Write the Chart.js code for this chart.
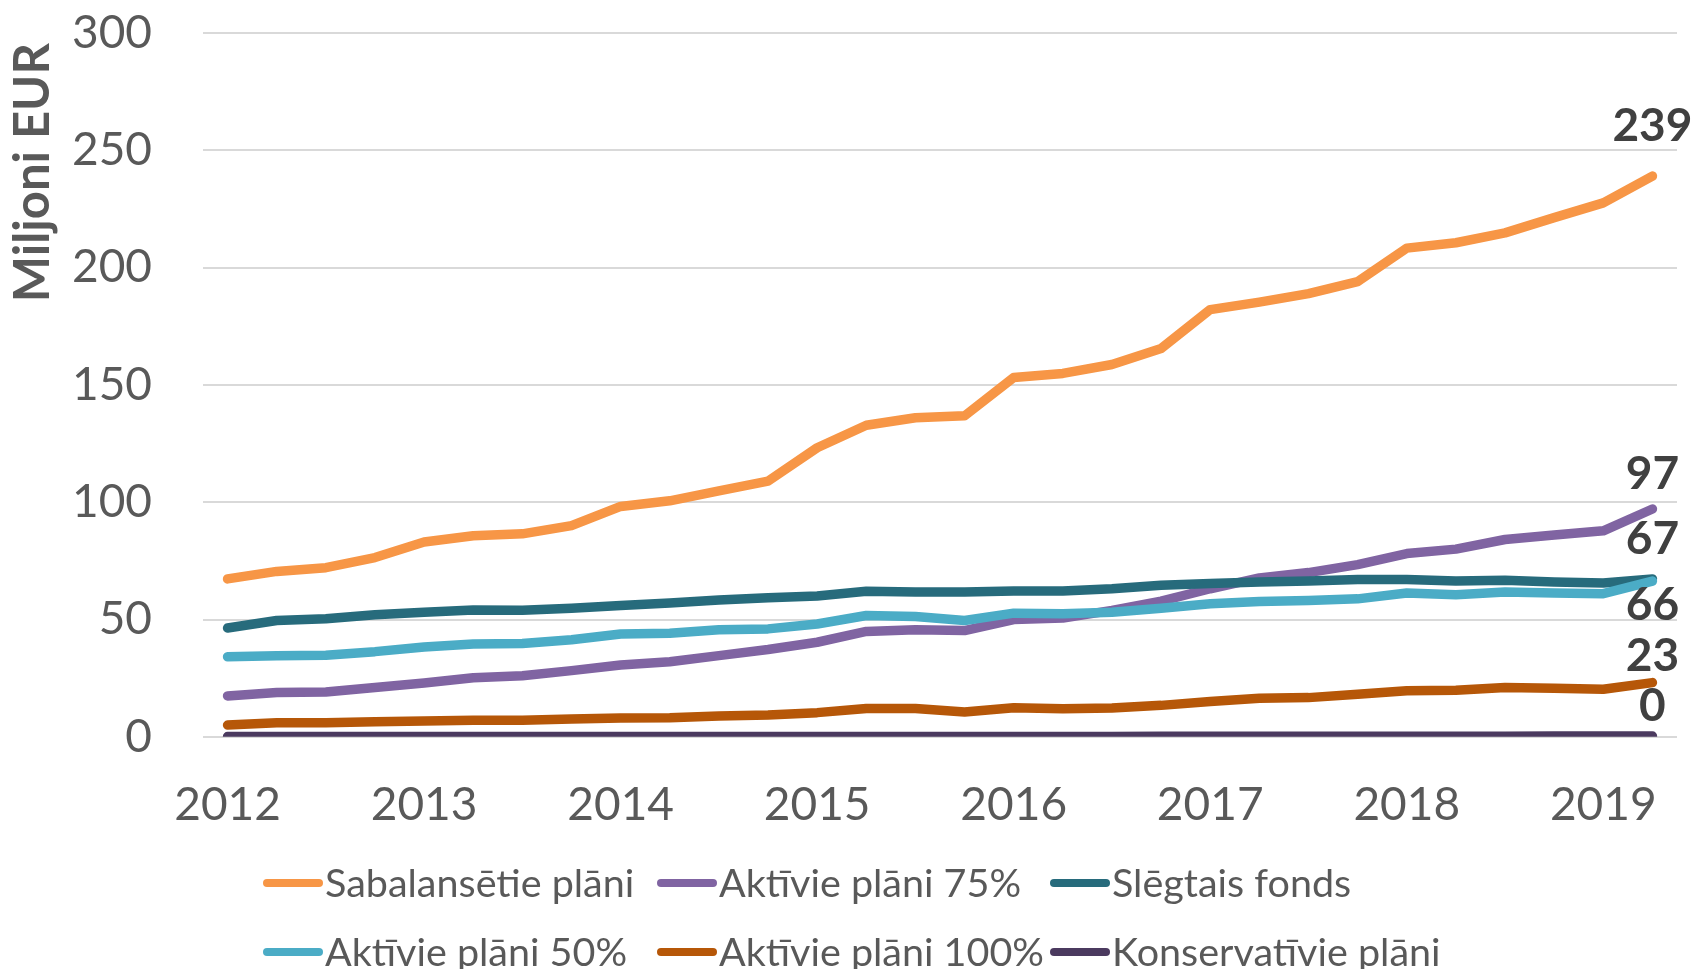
<!DOCTYPE html>
<html>
<head>
<meta charset="utf-8">
<script src="https://cdn.jsdelivr.net/npm/chart.js@4.4.1/dist/chart.umd.min.js"></script>
<style>
  html, body { margin: 0; padding: 0; background: #ffffff; }
  #wrap { width: 1694px; height: 969px; }
</style>
</head>
<body>
<div id="wrap"><canvas id="c" width="1694" height="969"></canvas></div>
<script>
// ---- data (quarterly, million EUR) ----
const categories = [
  '2012-Q1','2012-Q2','2012-Q3','2012-Q4',
  '2013-Q1','2013-Q2','2013-Q3','2013-Q4',
  '2014-Q1','2014-Q2','2014-Q3','2014-Q4',
  '2015-Q1','2015-Q2','2015-Q3','2015-Q4',
  '2016-Q1','2016-Q2','2016-Q3','2016-Q4',
  '2017-Q1','2017-Q2','2017-Q3','2017-Q4',
  '2018-Q1','2018-Q2','2018-Q3','2018-Q4',
  '2019-Q1','2019-Q2'
];
const seriesNames = ['Sabalansētie plāni','Aktīvie plāni 75%','Slēgtais fonds','Aktīvie plāni 50%','Aktīvie plāni 100%','Konservatīvie plāni'];
const sabalansetie = [67.3,70.5,72.1,76.4,83.0,85.7,86.5,90.0,98.2,100.6,104.8,109.0,123.2,132.8,136.0,136.8,153.2,154.9,158.7,165.5,182.1,185.3,188.9,194.0,208.3,210.6,214.8,221.3,227.6,239.0];
const aktivie75 = [17.4,18.9,19.1,21.0,22.9,25.2,26.0,28.2,30.6,32.0,34.6,37.2,40.3,44.9,45.6,45.3,50.0,50.6,53.9,57.8,63.1,67.7,70.0,73.4,78.1,80.0,84.1,86.0,87.8,97.1];
const slegtais = [46.4,49.6,50.3,52.0,53.1,54.1,53.9,54.8,56.0,57.0,58.3,59.3,60.0,62.0,61.7,61.7,62.1,62.1,63.1,64.6,65.3,66.0,66.4,67.1,67.1,66.4,66.7,66.0,65.6,67.3];
const aktivie50 = [34.1,34.6,34.8,36.3,38.3,39.6,39.8,41.4,43.8,44.1,45.6,46.0,48.1,51.7,51.3,49.6,52.7,52.4,53.1,54.8,56.7,57.7,58.1,58.8,61.3,60.6,61.7,61.3,61.0,66.4];
const aktivie100 = [5.0,6.0,6.0,6.4,6.7,7.1,7.1,7.6,8.0,8.1,8.9,9.3,10.3,12.1,12.1,10.6,12.4,12.0,12.3,13.4,15.0,16.4,16.7,18.1,19.6,19.8,21.0,20.7,20.3,23.1];
const konservativie = [0.1,0.1,0.1,0.1,0.1,0.1,0.1,0.1,0.1,0.1,0.1,0.1,0.1,0.1,0.1,0.1,0.1,0.1,0.1,0.2,0.2,0.2,0.2,0.2,0.2,0.2,0.2,0.3,0.3,0.3];
const yTicks = [0, 50, 100, 150, 200, 250, 300];
const yTitle = 'Miljoni EUR';

// ---- styles ----
const colors = ['#F79646','#8064A2','#276B7C','#4BACC6','#B65708','#4B3A5F'];
const labelOffsets = [-50, -35, -40, 24, -26, -30];
const TEXT = '#595959';
const FONT = 'Lato';

const seriesValues = [sabalansetie, aktivie75, slegtais, aktivie50, aktivie100, konservativie];

const endLabels = {
  id: 'endLabels',
  afterDatasetsDraw(chart) {
    const ctx = chart.ctx;
    ctx.save();
    ctx.font = 'bold 46px ' + FONT;
    ctx.fillStyle = '#404040';
    ctx.textAlign = 'center';
    ctx.textBaseline = 'middle';
    chart.data.datasets.forEach((ds, i) => {
      const meta = chart.getDatasetMeta(i);
      const pt = meta.data[meta.data.length - 1];
      const v = ds.data[ds.data.length - 1];
      ctx.fillText(String(Math.round(v)), pt.x, pt.y + labelOffsets[i]);
    });
    ctx.restore();
  }
};

const axisTitle = {
  id: 'axisTitle',
  afterDraw(chart) {
    const ctx = chart.ctx;
    ctx.save();
    ctx.font = 'bold 49px ' + FONT;
    ctx.fillStyle = TEXT;
    ctx.textAlign = 'right';
    ctx.textBaseline = 'middle';
    ctx.translate(33, 43);
    ctx.rotate(-Math.PI / 2);
    ctx.fillText(yTitle, 0, 0);
    ctx.restore();
  }
};

const gridLegend = {
  id: 'gridLegend',
  afterDraw(chart) {
    const ctx = chart.ctx;
    const colX = [263, 657, 1050];
    const rowY = [883, 952];
    ctx.save();
    ctx.font = '39.5px ' + FONT;
    ctx.textBaseline = 'alphabetic';
    ctx.textAlign = 'left';
    chart.data.datasets.forEach((ds, i) => {
      const x = colX[i % 3];
      const y = rowY[Math.floor(i / 3)];
      ctx.strokeStyle = ds.borderColor;
      ctx.lineWidth = 8;
      ctx.lineCap = 'round';
      ctx.beginPath();
      ctx.moveTo(x + 4, y);
      ctx.lineTo(x + 56, y);
      ctx.stroke();
      ctx.fillStyle = TEXT;
      ctx.fillText(ds.label, x + 62, y + 14);
    });
    ctx.restore();
  }
};

function build() {
  Chart.defaults.font.family = FONT;
  Chart.defaults.color = TEXT;
  const n = seriesNames.length;
  new Chart(document.getElementById('c'), {
    type: 'line',
    data: {
      labels: categories,
      datasets: seriesNames.map((name, i) => ({
        label: name,
        data: seriesValues[i],
        borderColor: colors[i],
        backgroundColor: colors[i],
        borderWidth: 9.5,
        borderCapStyle: 'round',
        borderJoinStyle: 'round',
        pointRadius: 0,
        pointHoverRadius: 0,
        tension: 0,
        fill: false,
        order: n - i
      }))
    },
    options: {
      responsive: false,
      animation: false,
      devicePixelRatio: 1,
      layout: { padding: { left: 0, right: 17, top: 33, bottom: 95 } },
      plugins: {
        legend: { display: false },
        tooltip: { enabled: false },
        title: { display: false }
      },
      scales: {
        x: {
          type: 'category',
          offset: true,
          grid: { display: false, drawTicks: false },
          border: { display: false },
          ticks: {
            autoSkip: false,
            maxRotation: 0,
            minRotation: 0,
            padding: 41,
            color: TEXT,
            font: { size: 46, family: FONT },
            callback: function (val, idx) {
              const lab = categories[idx];
              return lab.endsWith('Q1') ? lab.slice(0, 4) : '';
            }
          }
        },
        y: {
          min: yTicks[0],
          max: yTicks[yTicks.length - 1],
          afterBuildTicks: (scale) => { scale.ticks = yTicks.map(v => ({ value: v })); },
          afterFit: (scale) => { scale.width = 203; },
          grid: { color: '#D9D9D9', lineWidth: 2, drawTicks: true, tickLength: 48, tickColor: 'rgba(0,0,0,0)' },
          border: { display: false },
          ticks: {
            padding: 3,
            color: TEXT,
            font: { size: 46, family: FONT }
          },
          title: { display: false }
        }
      }
    },
    plugins: [endLabels, axisTitle, gridLegend]
  });
}

Promise.all([
  document.fonts.load('46px Lato'),
  document.fonts.load('bold 49px Lato'),
  document.fonts.load('39.5px Lato')
]).then(build, build);
</script>
</body>
</html>
